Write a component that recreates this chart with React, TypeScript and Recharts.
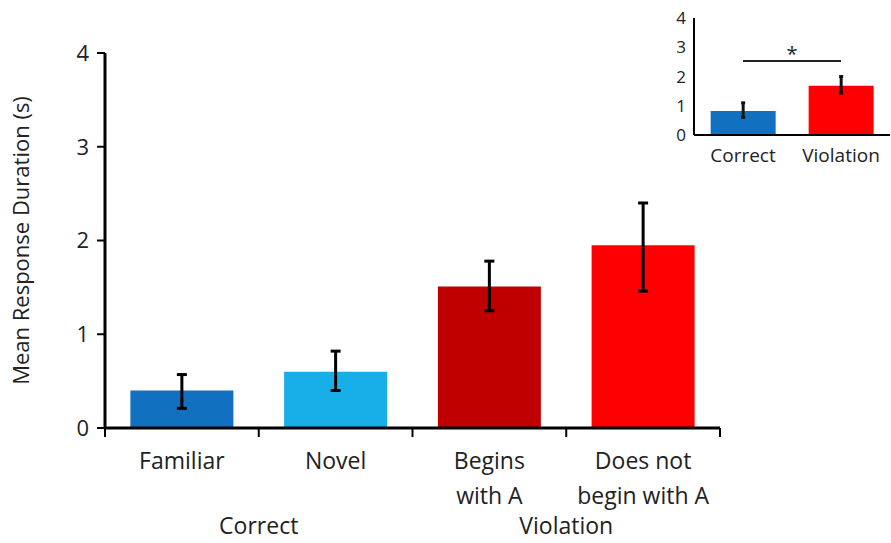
import React from "react";
import {
  BarChart,
  Bar,
  XAxis,
  YAxis,
  ErrorBar,
  Cell,
  ReferenceLine,
} from "recharts";

// main panel
const categories = ["Familiar", "Novel", "Begins\nwith A", "Does not\nbegin with A"];
const means = [0.4, 0.6, 1.51, 1.95];
const errLow = [0.21, 0.4, 1.25, 1.46];
const errHigh = [0.57, 0.82, 1.78, 2.4];
const barColors = ["#1170c0", "#18afe9", "#c00000", "#ff0000"];
const groupNames = ["Correct", "Violation"];
const groupTicks = [1, 3];
const boundaryTicks = [0, 1, 2, 3, 4];
const yTicks = [0, 1, 2, 3, 4];

// inset panel
const insetCategories = ["Correct", "Violation"];
const insetMeans = [0.82, 1.68];
const insetLow = [0.6, 1.43];
const insetHigh = [1.1, 2.0];
const insetColors = ["#1170c0", "#ff0000"];
const sigLevel = 2.53;

const FONT = "'Open Sans', 'DejaVu Sans', sans-serif";
const TXT = "#222";

const mainData = categories.map((c, i) => ({
  name: c,
  pos: i + 0.5,
  value: means[i],
  err: [means[i] - errLow[i], errHigh[i] - means[i]],
  color: barColors[i],
}));

const insetData = insetCategories.map((c, i) => ({
  name: c,
  value: insetMeans[i],
  err: [insetMeans[i] - insetLow[i], insetHigh[i] - insetMeans[i]],
  color: insetColors[i],
}));

const CatTick = (props: any) => {
  const { x, y, payload } = props;
  const lines = String(payload.value).split("\n");
  return (
    <text x={x} y={y} textAnchor="middle" fill={TXT} fontSize={23} fontFamily={FONT}>
      {lines.map((l, i) => (
        <tspan key={i} x={x} dy={i === 0 ? 38 : 35}>
          {l}
        </tspan>
      ))}
    </text>
  );
};

const GroupTick = (props: any) => {
  const { x, y, payload } = props;
  const idx = groupTicks.indexOf(payload.value);
  return (
    <text x={x} y={y} dy={28} textAnchor="middle" fill={TXT} fontSize={23} fontFamily={FONT}>
      {groupNames[idx]}
    </text>
  );
};

const YTitle = (props: any) => {
  const { viewBox } = props;
  const cx = viewBox.x + 20;
  const cy = viewBox.y + viewBox.height / 2;
  return (
    <text
      x={cx}
      y={cy}
      transform={`rotate(-90, ${cx}, ${cy})`}
      textAnchor="middle"
      dominantBaseline="central"
      fill={TXT}
      fontSize={22}
      fontFamily={FONT}
    >
      Mean Response Duration (s)
    </text>
  );
};

export default function App() {
  return (
    <div style={{ position: "absolute", left: 0, top: 0, width: 891, height: 543, background: "#fff" }}>
      <div style={{ position: "absolute", left: 0, top: 0 }}>
        <BarChart
          width={891}
          height={543}
          data={mainData}
          margin={{ top: 53, right: 171, bottom: 0, left: 0 }}
          barCategoryGap="16.5%"
        >
          <YAxis
            type="number"
            domain={[0, 4]}
            ticks={yTicks}
            width={105}
            axisLine={{ stroke: "#000", strokeWidth: 3 }}
            tickLine={{ stroke: "#000", strokeWidth: 2 }}
            tickSize={8}
            tickMargin={8}
            tick={{ fill: TXT, fontSize: 22, fontFamily: FONT }}
            label={{ content: YTitle }}
          />
          <XAxis
            xAxisId="b"
            dataKey="pos"
            type="number"
            domain={[0, 4]}
            ticks={boundaryTicks}
            allowDataOverflow
            height={1}
            axisLine={{ stroke: "#000", strokeWidth: 3 }}
            tickLine={{ stroke: "#000", strokeWidth: 2 }}
            tickSize={9}
            tickFormatter={() => ""}
          />
          <XAxis
            xAxisId="cat"
            dataKey="name"
            height={75}
            axisLine={false}
            tickLine={false}
            tickSize={0}
            interval={0}
            tick={<CatTick />}
          />
          <XAxis
            xAxisId="g"
            dataKey="pos"
            type="number"
            domain={[0, 4]}
            ticks={groupTicks}
            allowDataOverflow
            height={39}
            axisLine={false}
            tickLine={false}
            tickSize={0}
            tick={<GroupTick />}
          />
          <Bar dataKey="value" xAxisId="cat" isAnimationActive={false}>
            {mainData.map((d, i) => (
              <Cell key={i} fill={d.color} />
            ))}
            <ErrorBar dataKey="err" width={5} strokeWidth={3} stroke="#000" direction="y" />
          </Bar>
        </BarChart>
      </div>

      <div style={{ position: "absolute", left: 640, top: 0 }}>
        <BarChart
          width={251}
          height={175}
          data={insetData}
          margin={{ top: 18, right: 1, bottom: 0, left: 0 }}
          barCategoryGap="17%"
        >
          <YAxis
            type="number"
            domain={[0, 4]}
            ticks={yTicks}
            width={54}
            axisLine={{ stroke: "#000", strokeWidth: 2 }}
            tickLine={false}
            tickSize={6}
            tickMargin={2}
            tick={{ fill: TXT, fontSize: 17, fontFamily: FONT }}
          />
          <XAxis
            dataKey="name"
            height={40}
            axisLine={{ stroke: "#000", strokeWidth: 2 }}
            tickLine={false}
            tickSize={0}
            tickMargin={14}
            interval={0}
            tick={{ fill: TXT, fontSize: 19, fontFamily: FONT }}
          />
          <Bar dataKey="value" isAnimationActive={false}>
            {insetData.map((d, i) => (
              <Cell key={i} fill={d.color} />
            ))}
            <ErrorBar dataKey="err" width={2} strokeWidth={3} stroke="#111" direction="y" />
          </Bar>
          <ReferenceLine
            segment={[
              { x: insetCategories[0], y: sigLevel },
              { x: insetCategories[1], y: sigLevel },
            ]}
            stroke="#222"
            strokeWidth={2}
            label={{ value: "*", position: "top", offset: 0, fill: TXT, fontSize: 20, fontFamily: FONT }}
          />
        </BarChart>
      </div>
    </div>
  );
}
